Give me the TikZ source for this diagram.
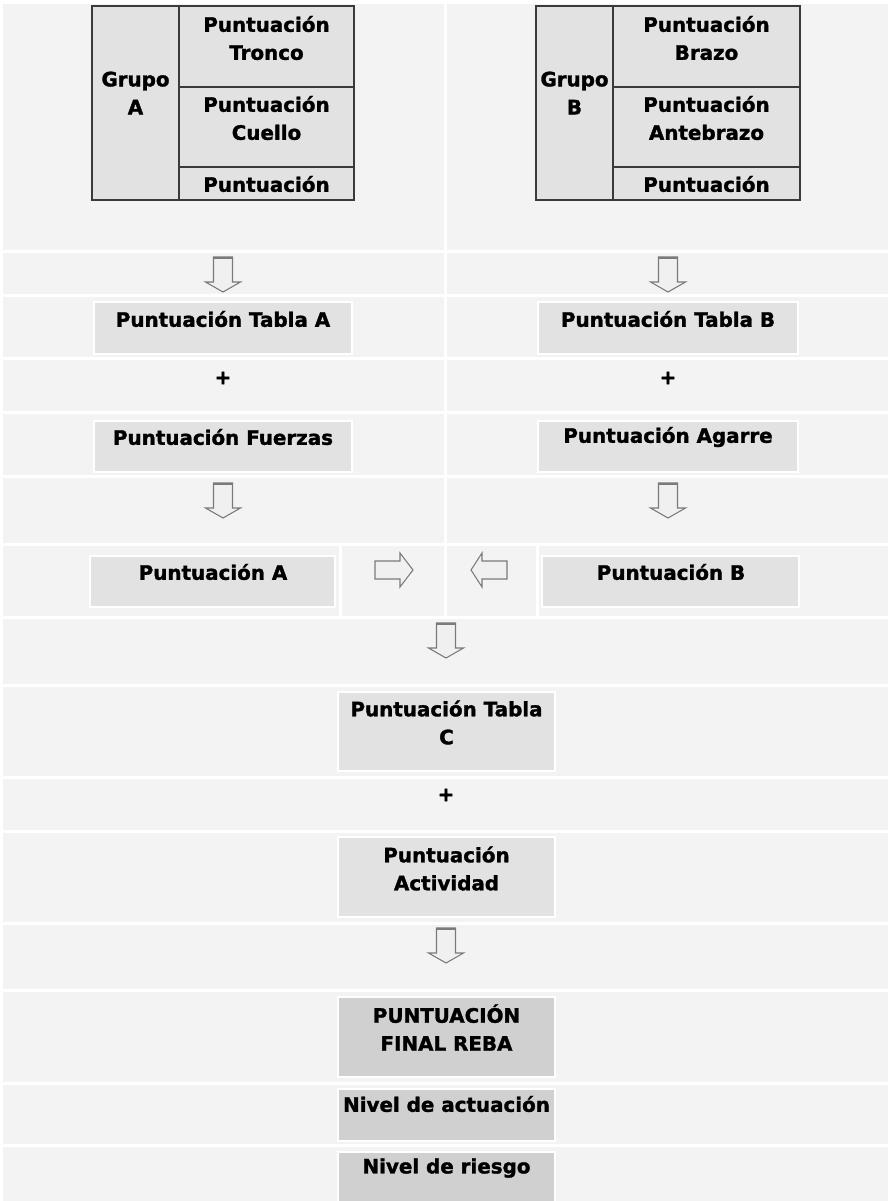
\documentclass[tikz,border=0pt]{standalone}
\usepackage{fontspec}
\setmainfont{DejaVu Sans}
\newfontfamily\lblfont{DejaVu Sans Bold}[FakeBold=1.5]
\definecolor{cellbg}{HTML}{F3F3F3}
\definecolor{boxbg}{HTML}{E2E2E2}
\definecolor{finalbg}{HTML}{D0D0D0}
\definecolor{tabline}{HTML}{3A3A3A}
\definecolor{arrowline}{HTML}{7A7A7A}
\definecolor{arrowfill}{HTML}{F0F0F0}
\newcommand{\myDownArrow}[1]{%
  \draw[blockarrow] (#1) ++(-9.5,0) -- ++(19,0) -- ++(0,25) -- ++(8,0)
    -- ++(-17.5,10) -- ++(-17.5,-10) -- ++(8,0) -- cycle;
  \draw[arrowline, line width=1.5pt] (#1) ++(-9.5,0.8) -- ++(19,0);}
\begin{document}
\begin{tikzpicture}[x=0.75pt,y=-0.75pt,
  cell/.style={fill=cellbg},
  box/.style={fill=boxbg, draw=white, line width=1.5pt},
  fbox/.style={fill=finalbg, draw=white, line width=1.5pt},
  tcell/.style={fill=boxbg, draw=tabline, line width=1pt},
  lbl/.style={font=\lblfont\fontsize{14.9}{21}\selectfont, align=center, inner sep=0pt, text=black},
  blockarrow/.style={draw=arrowline, fill=arrowfill, line width=0.8pt, line join=miter}]
\fill[white] (0,0) rectangle (890,1201);
\useasboundingbox (0,0) rectangle (890,1201);
% grid cells
\foreach \ya/\yb in {4/250,253/294,297/357,360/411,414/475,478/543}{
  \fill[cell] (3,\ya) rectangle (444,\yb);
  \fill[cell] (447,\ya) rectangle (888,\yb);}
\foreach \xa/\xb in {3/339,342/444,447/536,539/888}
  \fill[cell] (\xa,546) rectangle (\xb,616);
\foreach \ya/\yb in {619/684,687/776,779/830,833/922,925/989,992/1082,1085/1144,1147/1201}
  \fill[cell] (3,\ya) rectangle (888,\yb);
% table A
\draw[tcell] (92,6) rectangle (179,200);
\draw[tcell] (179,6) rectangle (354,87);
\draw[tcell] (179,87) rectangle (354,167);
\draw[tcell] (179,167) rectangle (354,200);
\node[lbl] (grpA) at (135.5,93) {Grupo\\A};
\node[lbl] (tronco) at (266.5,38) {Puntuación\\Tronco};
\node[lbl] (cuello) at (266.5,118) {Puntuación\\Cuello};
\node[lbl] (piernas) at (266.5,184) {Puntuación};
% table B
\draw[tcell] (536,6) rectangle (613,200);
\draw[tcell] (613,6) rectangle (800,87);
\draw[tcell] (613,87) rectangle (800,167);
\draw[tcell] (613,167) rectangle (800,200);
\node[lbl] (grpB) at (574.5,93) {Grupo\\B};
\node[lbl] (brazo) at (706.5,38) {Puntuación\\Brazo};
\node[lbl] (antebrazo) at (706.5,118) {Puntuación\\Antebrazo};
\node[lbl] (muneca) at (706.5,184) {Puntuación};
% arrows row 2
\coordinate (arA1) at (223,257);
\coordinate (arB1) at (668,257);
\myDownArrow{arA1}
\myDownArrow{arB1}
% row 3
\path[box] (94,302) rectangle (352,354);
\path[box] (538,302) rectangle (798,354);
\node[lbl] (tablaA) at (223,319) {Puntuación Tabla A};
\node[lbl] (tablaB) at (668,319) {Puntuación Tabla B};
% row 4
\node[lbl] (plusA) at (223,378) {+};
\node[lbl] (plusB) at (668,378) {+};
% row 5
\path[box] (94,421) rectangle (352,472);
\path[box] (538,421) rectangle (798,472);
\node[lbl] (fuerzas) at (223,437) {Puntuación Fuerzas};
\node[lbl] (agarre) at (668,437) {Puntuación Agarre};
% row 6
\coordinate (arA2) at (223,483);
\coordinate (arB2) at (668,483);
\myDownArrow{arA2}
\myDownArrow{arB2}
% row 7
\path[box] (90,556) rectangle (335,607);
\path[box] (542,556) rectangle (799,607);
\node[lbl] (puntA) at (213,572) {Puntuación A};
\node[lbl] (puntB) at (671,572) {Puntuación B};
\coordinate (rA) at (375,570);
\coordinate (lB) at (507,570);
\draw[blockarrow] (rA) ++(0,-9) -- ++(25,0) -- ++(0,-8) -- ++(13,17) -- ++(-13,17)
  -- ++(0,-8) -- ++(-25,0) -- cycle;
\draw[blockarrow] (lB) ++(0,-9) -- ++(-25,0) -- ++(0,-8) -- ++(-11,17) -- ++(11,17)
  -- ++(0,-8) -- ++(25,0) -- cycle;
% row 8
\coordinate (arC1) at (446,623);
\myDownArrow{arC1}
% row 9
\path[box] (338,692) rectangle (555,771);
\node[lbl] (tablaC) at (446.5,722.5) {Puntuación Tabla\\C};
% row 10
\node[lbl] (plusC) at (446,795) {+};
% row 11
\path[box] (338,837) rectangle (555,917);
\node[lbl] (actividad) at (446.5,868.5) {Puntuación\\Actividad};
% row 12
\coordinate (arC2) at (446,928);
\myDownArrow{arC2}
% row 13
\path[fbox] (338,997) rectangle (555,1077);
\node[lbl] (final) at (446.5,1027.5) {PUNTUACIÓN\\FINAL REBA};
% row 14
\path[fbox] (338,1089) rectangle (555,1141);
\node[lbl] (actuacion) at (446.5,1104) {Nivel de actuación};
% row 15
\path[fbox] (338,1152) rectangle (555,1205);
\node[lbl] (riesgo) at (446.5,1168) {Nivel de riesgo};
\end{tikzpicture}
\end{document}
